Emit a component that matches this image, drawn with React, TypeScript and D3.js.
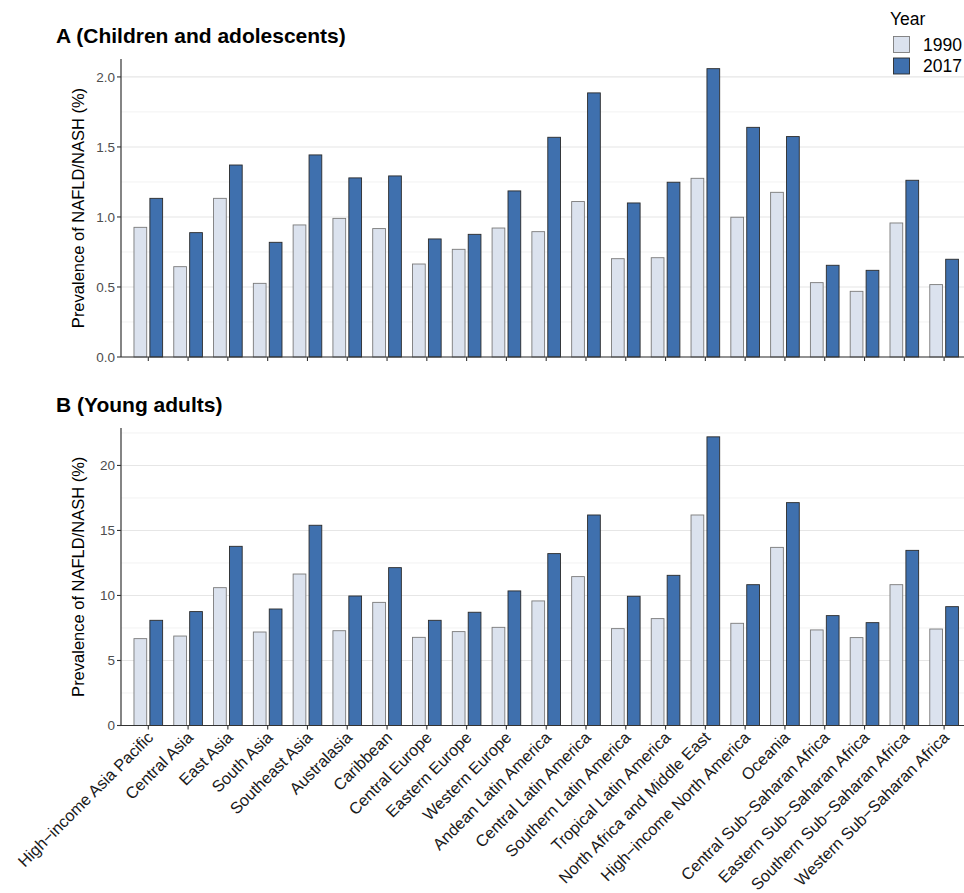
import React from "react";
import * as d3 from "d3";

const regions = [
  "High−income Asia Pacific", "Central Asia", "East Asia", "South Asia", "Southeast Asia",
  "Australasia", "Caribbean", "Central Europe", "Eastern Europe", "Western Europe",
  "Andean Latin America", "Central Latin America", "Southern Latin America", "Tropical Latin America",
  "North Africa and Middle East", "High−income North America", "Oceania",
  "Central Sub−Saharan Africa", "Eastern Sub−Saharan Africa", "Southern Sub−Saharan Africa",
  "Western Sub−Saharan Africa",
];
const years = ["1990", "2017"];

const childA1990 = [0.926, 0.645, 1.133, 0.526, 0.943, 0.99, 0.917, 0.664, 0.769, 0.921, 0.895, 1.11, 0.702, 0.709, 1.276, 0.998, 1.176, 0.531, 0.469, 0.957, 0.517];
const childA2017 = [1.133, 0.888, 1.371, 0.819, 1.443, 1.279, 1.293, 0.843, 0.876, 1.186, 1.569, 1.886, 1.1, 1.248, 2.059, 1.64, 1.574, 0.655, 0.619, 1.262, 0.698];
const youngB1990 = [6.68, 6.88, 10.6, 7.19, 11.65, 7.29, 9.47, 6.78, 7.22, 7.55, 9.58, 11.45, 7.45, 8.22, 16.19, 7.86, 13.7, 7.35, 6.76, 10.83, 7.42];
const youngB2017 = [8.09, 8.76, 13.78, 8.96, 15.4, 9.96, 12.14, 8.09, 8.71, 10.35, 13.22, 16.19, 9.94, 11.55, 22.2, 10.83, 17.14, 8.45, 7.91, 13.47, 9.14];

const ticksA = [0, 0.5, 1.0, 1.5, 2.0];
const minorA = [0.25, 0.75, 1.25, 1.75];
const ticksB = [0, 5, 10, 15, 20];
const minorB = [2.5, 7.5, 12.5, 17.5, 22.5];

const FILL: Record<string, string> = { "1990": "#DBE2EE", "2017": "#3F70AE" };
const STROKE: Record<string, string> = { "1990": "#7a7a7a", "2017": "#2b2b2b" };
const FONT = "Liberation Sans, Arial, sans-serif";

const W = 964, H = 893;
const x0 = 121;
const x1 = 971.4;

const xScale = d3.scaleBand<string>().domain(regions).range([x0, x1]).paddingInner(0).paddingOuter(0.186);
const sub = d3.scaleBand<string>().domain(years).range([0, xScale.bandwidth() * 0.8]).paddingInner(0.2).paddingOuter(0.1);

function Panel({ top, bottom, max, v1990, v2017, ticks, minor, fmt, title, showX }: any) {
  const y = d3.scaleLinear().domain([0, max]).range([bottom, top]);
  const groupOffset = xScale.bandwidth() * 0.1;
  return (
    <g>
      <text x={56} y={top - 16} fontFamily={FONT} fontWeight="bold" fontSize={21} fill="#000">{title}</text>
      {minor.filter((t: number) => t <= max).map((t: number) => (
        <line key={"m" + t} x1={x0} x2={W} y1={y(t)} y2={y(t)} stroke="#f2f2f2" strokeWidth={1} />
      ))}
      {ticks.map((t: number) => (
        <line key={"g" + t} x1={x0} x2={W} y1={y(t)} y2={y(t)} stroke="#e6e6e6" strokeWidth={1.1} />
      ))}
      {regions.map((r, i) => (
        <g key={r}>
          {years.map((yr) => {
            const v = yr === "1990" ? v1990[i] : v2017[i];
            const bx = (xScale(r) as number) + groupOffset + (sub(yr) as number);
            return (
              <rect key={yr} x={bx} y={y(v)} width={sub.bandwidth()} height={y(0) - y(v)}
                fill={FILL[yr]} stroke={STROKE[yr]} strokeWidth={0.9} />
            );
          })}
        </g>
      ))}
      <line x1={x0} x2={x0} y1={top} y2={bottom} stroke="#333" strokeWidth={1.2} />
      <line x1={x0} x2={W} y1={bottom} y2={bottom} stroke="#333" strokeWidth={1.2} />
      {ticks.map((t: number) => (
        <g key={"t" + t}>
          <line x1={x0 - 4} x2={x0} y1={y(t)} y2={y(t)} stroke="#333" strokeWidth={1.1} />
          <text x={x0 - 6} y={y(t)} dy="0.35em" textAnchor="end" fontFamily={FONT} fontSize={13.5} fill="#4d4d4d">{fmt(t)}</text>
        </g>
      ))}
      {regions.map((r) => {
        const cx = (xScale(r) as number) + xScale.bandwidth() / 2;
        return <line key={"xt" + r} x1={cx} x2={cx} y1={bottom} y2={bottom + 4} stroke="#333" strokeWidth={1.1} />;
      })}
      <text transform={`translate(78,${(top + bottom) / 2}) rotate(-90)`} textAnchor="middle" dy="0.35em"
        fontFamily={FONT} fontSize={16.5} fill="#000">Prevalence of NAFLD/NASH (%)</text>
      {showX && regions.map((r) => {
        const cx = (xScale(r) as number) + xScale.bandwidth() / 2;
        return (
          <text key={"xl" + r} transform={`translate(${cx + 6},${bottom + 13}) rotate(-45)`} textAnchor="end"
            fontFamily={FONT} fontSize={16.3} fill="#1a1a1a">{r}</text>
        );
      })}
    </g>
  );
}

export default function App() {
  return (
    <svg width={W} height={H} style={{ position: "absolute", left: 0, top: 0, background: "#fff" }}>
      <rect width={W} height={H} fill="#fff" />
      <Panel top={59} bottom={357} max={2.128} v1990={childA1990} v2017={childA2017} ticks={ticksA} minor={minorA}
        fmt={(t: number) => t.toFixed(1)} title="A (Children and adolescents)" showX={false} />
      <Panel top={428} bottom={725.5} max={22.88} v1990={youngB1990} v2017={youngB2017} ticks={ticksB} minor={minorB}
        fmt={(t: number) => String(t)} title="B (Young adults)" showX={true} />
      <g>
        <text x={890} y={25} fontFamily={FONT} fontSize={17.5} fill="#000">Year</text>
        {years.map((yr, i) => (
          <g key={yr}>
            <rect x={893.5} y={36.5 + i * 21.5} width={16} height={16} fill={FILL[yr]} stroke={STROKE[yr]} strokeWidth={0.9} />
            <text x={923} y={44.5 + i * 21.5} dy="0.35em" fontFamily={FONT} fontSize={17.5} fill="#000">{yr}</text>
          </g>
        ))}
      </g>
    </svg>
  );
}
